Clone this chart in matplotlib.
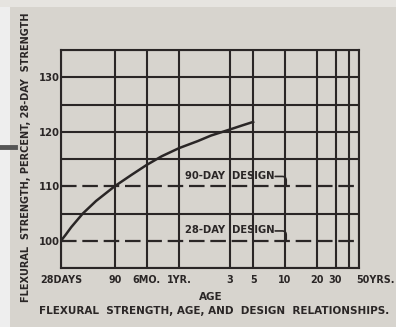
import numpy as np
import matplotlib.pyplot as plt
import matplotlib.transforms as mtransforms
from matplotlib.patches import Rectangle
from matplotlib.lines import Line2D

# idade em dias e resistencia a flexao (% da resistencia aos 28 dias)
idade_dias = [28, 31, 35, 45, 60, 90, 130, 180, 250, 365, 550, 730, 1095, 1460, 1825]
resistencia = [100, 101.1, 102.5, 105, 107.3, 110, 112.1, 113.9, 115.5, 117.0,
               118.3, 119.3, 120.4, 121.2, 121.8]

# linhas verticais da grade e rotulos do eixo x
grade_x = [28, 90, 180, 365, 1095, 1825, 3650, 7300, 10950, 14600, 18250]
ticks_x = [28, 90, 180, 365, 1095, 1825, 3650, 7300, 10950, 18250]
rotulos_x = ['28DAYS', '90', '6MO.', '1YR.', '3', '5', '10', '20', '30', '50YRS.']

ticks_y = [100, 110, 120, 130]
grade_y = [95, 105, 115, 120, 125, 130, 135]

# linhas de projeto
projeto_valores = [110, 100]
projeto_rotulos = ['90-DAY  DESIGN', '28-DAY  DESIGN']

papel = '#d7d4ce'
tinta = '#2a2626'
fonte = dict(family='DejaVu Sans', weight='bold', color=tinta)

fig = plt.figure(figsize=(3.96, 3.27), dpi=100)
fig.patch.set_facecolor(papel)

# margem clara (esquerda e topo) e a barra cinza
fig.patches.append(Rectangle((0, 0), 10/396, 1, transform=fig.transFigure,
                             facecolor='#eeeeee', edgecolor='none', zorder=0))
fig.patches.append(Rectangle((0, 1 - 7/327), 1, 7/327, transform=fig.transFigure,
                             facecolor='#e6e4e0', edgecolor='none', zorder=0))
fig.lines.append(Line2D([0, 15/396], [1 - 147/327, 1 - 147/327], transform=fig.transFigure,
                        color='#555555', linewidth=3.5))

ax = fig.add_axes([61/396, 1 - 268/327, 298/396, 218/327])
ax.set_facecolor(papel)
ax.set_xscale('log')
ax.set_xlim(28, 18250)
ax.set_ylim(95, 135)

for gx in grade_x:
    ax.axvline(gx, color=tinta, linewidth=1.5, zorder=1)
for gy in grade_y:
    ax.axhline(gy, color=tinta, linewidth=1.5, zorder=1)

# curva de resistencia
ax.plot(idade_dias, resistencia, color=tinta, linewidth=1.8, zorder=3,
        solid_joinstyle='round')

# linhas tracejadas de projeto com rotulo e gancho
for valor, rotulo in zip(projeto_valores, projeto_rotulos):
    ax.axhline(valor, color=tinta, linewidth=1.6, dashes=(7, 2.6), zorder=2)
    ax.text(415, valor + 1.0, rotulo, fontsize=7.2, ha='left', va='bottom', zorder=4,
            **fonte)
    ax.annotate('', xy=(3750, valor + 0.2), xytext=(2950, valor + 1.8),
                arrowprops=dict(arrowstyle='-', color=tinta, linewidth=1.2,
                                shrinkA=0, shrinkB=0,
                                connectionstyle='angle,angleA=0,angleB=90,rad=4'),
                zorder=4)

for sp in ax.spines.values():
    sp.set_color(tinta)
    sp.set_linewidth(1.5)

ax.set_xticks([])
ax.minorticks_off()
ax.set_yticks(ticks_y)
ax.set_yticklabels([str(t) for t in ticks_y], fontsize=7.2, **fonte)
ax.tick_params(axis='y', length=0, pad=1)

base_x = ax.get_xaxis_transform()
# o ultimo rotulo comeca logo antes da borda direita
deslocado = mtransforms.offset_copy(base_x, fig=fig, x=-3, y=0, units='dots')
for t, r in zip(ticks_x, rotulos_x):
    if r.endswith('YRS.'):
        ax.text(t, -0.03, r, transform=deslocado, fontsize=6.9,
                ha='left', va='top', **fonte)
    else:
        ax.text(t, -0.03, r, transform=base_x, fontsize=6.9,
                ha='center', va='top', **fonte)

fig.text(211/396, 1 - 297/327, 'AGE', fontsize=7.5, ha='center', va='center', **fonte)
fig.text(26/396, 1 - 157/327, 'FLEXURAL  STRENGTH, PERCENT, 28-DAY  STRENGTH',
         rotation=90, fontsize=7.0, ha='center', va='center', **fonte)
fig.text(214/396, 1 - 311/327, 'FLEXURAL  STRENGTH, AGE, AND  DESIGN  RELATIONSHIPS.',
         fontsize=7.5, ha='center', va='center', **fonte)

fig.savefig('out.png', dpi=100, facecolor=fig.get_facecolor())
